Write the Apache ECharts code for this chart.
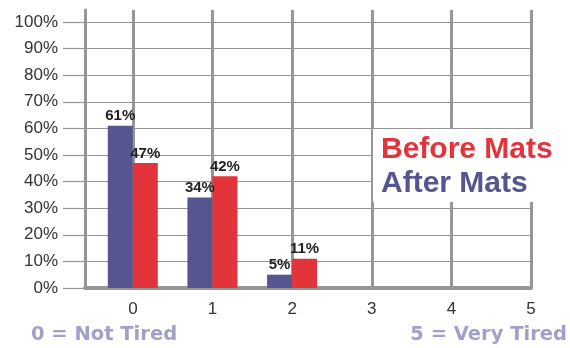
<!DOCTYPE html>
<html>
<head>
<meta charset="utf-8">
<script src="https://cdn.jsdelivr.net/npm/echarts@6/dist/echarts.min.js"></script>
<style>html,body{margin:0;padding:0;background:#fff}#c{width:570px;height:348px}</style>
</head>
<body>
<div id="c"></div>
<script>
var categories = [0, 1, 2, 3, 4, 5];
var afterMats = [61, 34, 5, 0, 0, 0];
var beforeMats = [47, 42, 11, 0, 0, 0];
var yTicks = [0, 10, 20, 30, 40, 50, 60, 70, 80, 90, 100];
var seriesNames = ['Before Mats', 'After Mats'];
var scaleNotes = ['0 = Not Tired', '5 = Very Tired'];

var FONT = 'Liberation Sans, Arial, sans-serif';
var WIDE = 'DejaVu Sans, sans-serif';
var GRID_GRAY = '#96969a';
var PURPLE = '#55558f';
var RED = '#e3343c';
var yMin = yTicks[0], yMax = yTicks[yTicks.length - 1], yStep = yTicks[1] - yTicks[0];

function pairs(vals) { return categories.map(function (c, i) { return [c, vals[i]]; }); }
var lbl = {
  show: true, position: 'top', distance: 2,
  fontFamily: FONT, fontWeight: 'bold', fontSize: 15, color: '#222',
  formatter: function (p) { return p.value[1] > 0 ? p.value[1] + '%' : ''; }
};
var hidden = { axisLine: { show: false }, axisTick: { show: false }, axisLabel: { show: false }, splitLine: { show: false } };

var chart = echarts.init(document.getElementById('c'), null, { renderer: 'canvas' });
chart.setOption({
  animation: false,
  grid: [
    { left: 85, right: 39, top: 22, bottom: 60 },
    { left: 133, right: 39, top: 10, bottom: 60 },
    { left: 63, width: 22, top: 22, bottom: 60 }
  ],
  xAxis: [
    { gridIndex: 0, type: 'value', min: -0.6, max: 5,
      axisLine: { show: true, onZero: false, lineStyle: { color: GRID_GRAY, width: 4 } },
      axisTick: { show: false }, axisLabel: { show: false }, splitLine: { show: false } },
    { gridIndex: 1, type: 'value', min: 0, max: 5, interval: 1,
      axisLine: { show: false }, axisTick: { show: false },
      axisLabel: { show: true, margin: 13, fontFamily: FONT, fontSize: 17, color: '#333' },
      splitLine: { show: true, lineStyle: { color: GRID_GRAY, width: 3 } } },
    Object.assign({ gridIndex: 2, type: 'value', min: 0, max: 1 }, hidden)
  ],
  yAxis: [
    { gridIndex: 0, type: 'value', min: yMin, max: yMax, interval: yStep,
      axisLine: { show: false }, axisTick: { show: false },
      axisLabel: { margin: 27, fontFamily: FONT, fontSize: 17, color: '#333', formatter: '{value}%' },
      splitLine: { show: true, lineStyle: { color: GRID_GRAY, width: 1.2 } } },
    { gridIndex: 1, type: 'value', min: 0, max: 1, offset: 48,
      axisLine: { show: true, onZero: false, lineStyle: { color: GRID_GRAY, width: 3 } },
      axisTick: { show: false }, axisLabel: { show: false }, splitLine: { show: false } },
    { gridIndex: 2, type: 'value', min: yMin, max: yMax, interval: yStep,
      axisLine: { show: false }, axisTick: { show: false }, axisLabel: { show: false },
      splitLine: { show: true, lineStyle: { color: GRID_GRAY, width: 1.2 } } }
  ],
  legend: {
    orient: 'vertical', left: 373, top: 129, icon: 'none', itemWidth: 0, itemHeight: 0,
    itemGap: 4, padding: [6, 10, 3, 3], backgroundColor: '#fff', selectedMode: false,
    textStyle: { fontFamily: FONT, fontWeight: 'bold', fontSize: 30 },
    data: [
      { name: seriesNames[0], textStyle: { color: RED } },
      { name: seriesNames[1], textStyle: { color: PURPLE } }
    ]
  },
  series: [
    { name: seriesNames[1], type: 'bar', xAxisIndex: 0, yAxisIndex: 0, data: pairs(afterMats),
      barWidth: 25, barGap: '0%', itemStyle: { color: PURPLE }, label: lbl },
    { name: seriesNames[0], type: 'bar', xAxisIndex: 0, yAxisIndex: 0, data: pairs(beforeMats),
      barWidth: 25, barGap: '0%', itemStyle: { color: RED }, label: lbl }
  ],
  graphic: [
    { type: 'text', left: 31, top: 325, style: { text: scaleNotes[0], fontFamily: WIDE, fontWeight: 'bold', fontSize: 19.5, fill: '#a29fca' } },
    { type: 'text', right: 3, top: 325, style: { text: scaleNotes[1], fontFamily: WIDE, fontWeight: 'bold', fontSize: 19.5, fill: '#a29fca' } }
  ]
});
</script>
</body>
</html>
